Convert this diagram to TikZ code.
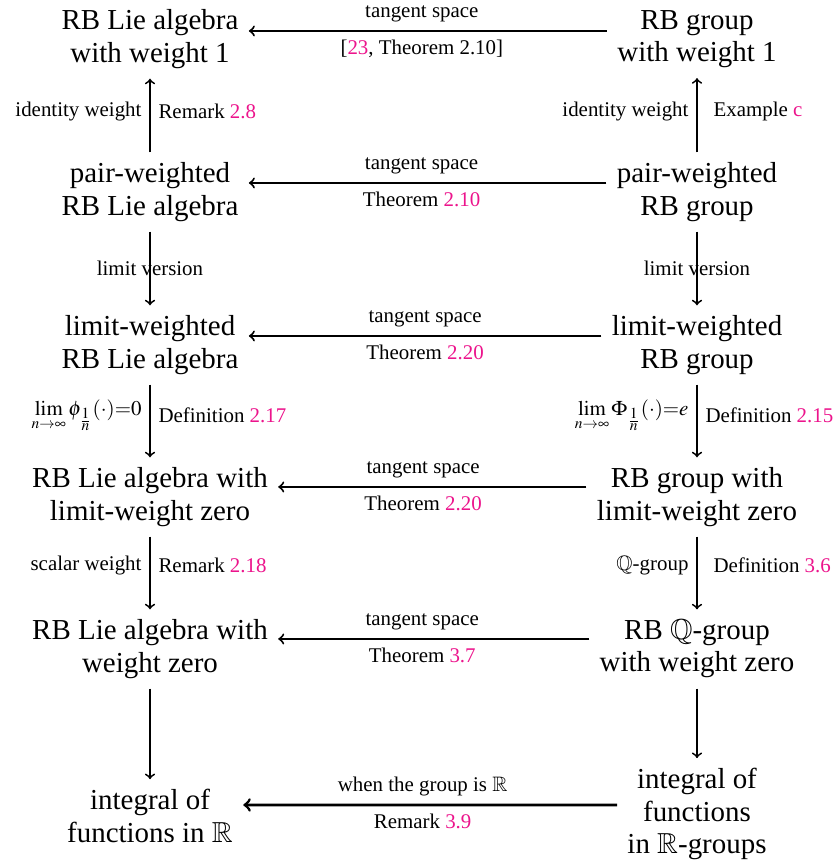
\documentclass[tikz,border=0pt]{standalone}
\usepackage{amsmath}
\usepackage{mathptmx}
\usepackage{amssymb}
\usepackage{fontspec}
\setmainfont{Liberation Serif}
\definecolor{refpink}{RGB}{236,20,140}
\newcommand{\lnk}[1]{\textcolor{refpink}{#1}}
\begin{document}
\begin{tikzpicture}[x=0.4975pt, y=-0.4975pt,
        obj/.style={align=center, inner sep=5pt, font=\fontsize{14.4}{16}\selectfont},
        lab/.style={inner sep=3.8pt, font=\fontsize{10.4}{12.5}\selectfont},
        tan/.style={->, line width=1pt},
        up/.style={->, line width=0.9pt}]
                    \useasboundingbox (0,0) rectangle (836,861);
                    % Lie algebra side
                    \node [obj] (a1) at (150,39) {RB Lie algebra\\with weight 1};
                    \node [obj] (a2) at (150,192) {pair-weighted\\RB Lie algebra};
                    \node [obj] (a3) at (150,345) {limit-weighted\\RB Lie algebra};
                    \node [obj] (a4) at (150,497) {RB Lie algebra with\\limit-weight zero};
                    \node [obj] (a5) at (150,649) {RB Lie algebra with\\weight zero};
                    \node [obj] (a6) at (150,816) {integral of\\functions in $\mathbb{R}$};
                    % group side
                    \node [obj] (g1) at (697,39) {RB group\\with weight 1};
                    \node [obj] (g2) at (697,192) {pair-weighted\\RB group};
                    \node [obj] (g3) at (697,345) {limit-weighted\\RB group};
                    \node [obj] (g4) at (697,497) {RB group with\\limit-weight zero};
                    \node [obj] (g5) at (697,649) {RB $\mathbb{Q}$-group\\with weight zero};
                    \node [obj] (g6) at (697,814) {integral of\\functions\\in $\mathbb{R}$-groups};
                    % tangent space arrows
                    \draw [tan] ([yshift=4pt]g1.west)-- node [lab, above, pos=0.517]{tangent space} node [lab, below, pos=0.517]{[\lnk{23}, Theorem 2.10]} ([yshift=4pt]a1.east);
                    \draw [tan] ([yshift=4.5pt]g2.west)-- node [lab, above, pos=0.517]{tangent space} node [lab, below, pos=0.517]{Theorem \lnk{2.10}} ([yshift=4.5pt]a2.east);
                    \draw [tan] ([yshift=4.5pt]g3.west)-- node [lab, above, pos=0.5]{tangent space} node [lab, below, pos=0.5]{Theorem \lnk{2.20}} ([yshift=4.5pt]a3.east);
                    \draw [tan] ([yshift=5pt]g4.west)-- node [lab, above, pos=0.53]{tangent space} node [lab, below, pos=0.53]{Theorem \lnk{2.20}} ([yshift=5pt]a4.east);
                    \draw [tan] ([yshift=5pt]g5.west)-- node [lab, above, pos=0.537]{tangent space} node [lab, below, pos=0.537]{Theorem \lnk{3.7}} ([yshift=5pt]a5.east);
                    \draw [tan, line width=1.4pt] ([yshift=4.5pt]g6.west)-- node [lab, above, pos=0.52]{when the group is $\mathbb{R}$} node [lab, below, pos=0.52]{Remark \lnk{3.9}} ([yshift=5.5pt]a6.east);
                    % vertical arrows
                    \draw [up] (a2)-- node [lab, left, pos=0.55]{identity weight} node [lab, right, pos=0.55]{Remark \lnk{2.8}} (a1);
                    \draw [up] (g2)-- node [lab, left, pos=0.55]{identity weight} node [lab, right, pos=0.55, xshift=4pt]{Example \lnk{c}} (g1);
                    \draw [up] (a2)-- node [lab, pos=0.5]{limit version} (a3);
                    \draw [up] (g2)-- node [lab, pos=0.5]{limit version} (g3);
                    \draw [up] (a3)-- node [lab, left, pos=0.42]{$\lim\limits_{n\to\infty}\phi_{\frac{\scriptstyle 1}{\scriptstyle n}}(\cdot){=}0$} node [lab, right, pos=0.42]{Definition \lnk{2.17}} (a4);
                    \draw [up] (g3)-- node [lab, left, pos=0.42]{$\lim\limits_{n\to\infty}\Phi_{\frac{\scriptstyle 1}{\scriptstyle n}}(\cdot){=}e$} node [lab, right, pos=0.42]{Definition \lnk{2.15}} (g4);
                    \draw [up] (a4)-- node [lab, left, pos=0.4]{scalar weight} node [lab, right, pos=0.4]{Remark \lnk{2.18}} (a5);
                    \draw [up] (g4)-- node [lab, left, pos=0.4]{$\mathbb{Q}$-group} node [lab, right, pos=0.4, xshift=4pt]{Definition \lnk{3.6}} (g5);
                    \draw [up] (a5)-- (a6);
                    \draw [up] (g5)-- (g6);
                \end{tikzpicture}
\end{document}
